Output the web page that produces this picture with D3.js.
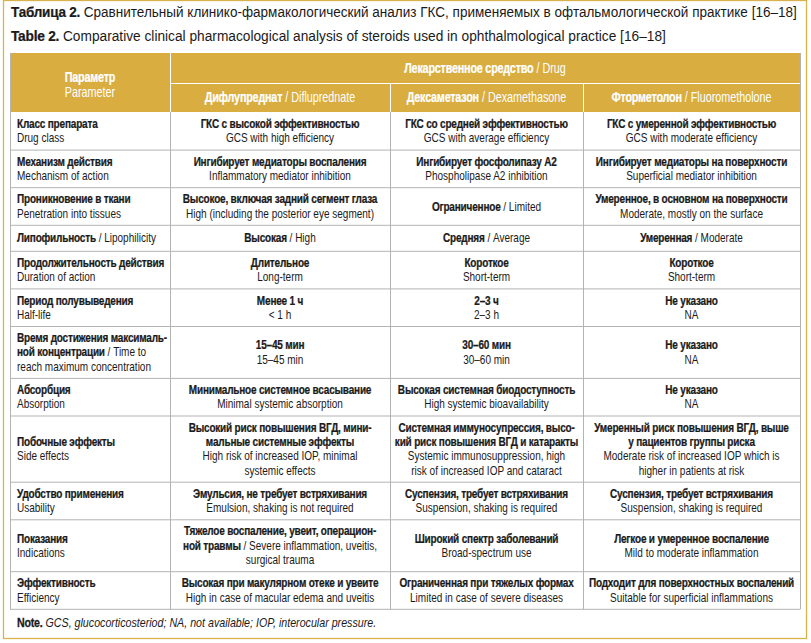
<!DOCTYPE html>
<html>
<head>
<meta charset="utf-8">
<script src="https://cdn.jsdelivr.net/npm/d3@7"></script>
<style>
  body { margin: 0; background: #fff; }
  svg { display: block; }
  text { font-family: "Liberation Sans", Arial, sans-serif; fill: #1a1a1a; }
</style>
</head>
<body>
<svg id="chart" width="811" height="643"></svg>
<script>
// text between *...* is bold
const titleRu = "*Таблица 2.* Сравнительный клинико-фармакологический анализ ГКС, применяемых в офтальмологической практике [16–18]";
const titleEn = "*Table 2.* Comparative clinical pharmacological analysis of steroids used in ophthalmological practice [16–18]";
const headParam = ["*Параметр*", "Parameter"];
const headDrug = "*Лекарственное средство* / Drug";
const drugs = ["*Дифлупреднат* / Difluprednate", "*Дексаметазон* / Dexamethasone", "*Фторметолон* / Fluorometholone"];

const parameters = [
    ["*Класс препарата*", "Drug class"],
    ["*Механизм действия*", "Mechanism of action"],
    ["*Проникновение в ткани*", "Penetration into tissues"],
    ["*Липофильность* / Lipophilicity"],
    ["*Продолжительность действия*", "Duration of action"],
    ["*Период полувыведения*", "Half-life"],
    ["*Время достижения максималь-*", "*ной концентрации* / Time to", "reach maximum concentration"],
    ["*Абсорбция*", "Absorption"],
    ["*Побочные эффекты*", "Side effects"],
    ["*Удобство применения*", "Usability"],
    ["*Показания*", "Indications"],
    ["*Эффективность*", "Efficiency"]
];

const difluprednate = [
    ["*ГКС с высокой эффективностью*", "GCS with high efficiency"],
    ["*Ингибирует медиаторы воспаления*", "Inflammatory mediator inhibition"],
    ["*Высокое, включая задний сегмент глаза*", "High (including the posterior eye segment)"],
    ["*Высокая* / High"],
    ["*Длительное*", "Long-term"],
    ["*Менее 1 ч*", "< 1 h"],
    ["*15–45 мин*", "15–45 min"],
    ["*Минимальное системное всасывание*", "Minimal systemic absorption"],
    ["*Высокий риск повышения ВГД, мини-*", "*мальные системные эффекты*", "High risk of increased IOP, minimal", "systemic effects"],
    ["*Эмульсия, не требует встряхивания*", "Emulsion, shaking is not required"],
    ["*Тяжелое воспаление, увеит, операцион-*", "*ной травмы* / Severe inflammation, uveitis,", "surgical trauma"],
    ["*Высокая при макулярном отеке и увеите*", "High in case of macular edema and uveitis"]
];

const dexamethasone = [
    ["*ГКС со средней эффективностью*", "GCS with average efficiency"],
    ["*Ингибирует фосфолипазу А2*", "Phospholipase A2 inhibition"],
    ["*Ограниченное* / Limited"],
    ["*Средняя* / Average"],
    ["*Короткое*", "Short-term"],
    ["*2–3 ч*", "2–3 h"],
    ["*30–60 мин*", "30–60 min"],
    ["*Высокая системная биодоступность*", "High systemic bioavailability"],
    ["*Системная иммуносупрессия, высо-*", "*кий риск повышения ВГД и катаракты*", "Systemic immunosuppression, high", "risk of increased IOP and cataract"],
    ["*Суспензия, требует встряхивания*", "Suspension, shaking is required"],
    ["*Широкий спектр заболеваний*", "Broad-spectrum use"],
    ["*Ограниченная при тяжелых формах*", "Limited in case of severe diseases"]
];

const fluorometholone = [
    ["*ГКС с умеренной эффективностью*", "GCS with moderate efficiency"],
    ["*Ингибирует медиаторы на поверхности*", "Superficial mediator inhibition"],
    ["*Умеренное, в основном на поверхности*", "Moderate, mostly on the surface"],
    ["*Умеренная* / Moderate"],
    ["*Короткое*", "Short-term"],
    ["*Не указано*", "NA"],
    ["*Не указано*", "NA"],
    ["*Не указано*", "NA"],
    ["*Умеренный риск повышения ВГД, выше*", "*у пациентов группы риска*", "Moderate risk of increased IOP which is", "higher in patients at risk"],
    ["*Суспензия, требует встряхивания*", "Suspension, shaking is required"],
    ["*Легкое и умеренное воспаление*", "Mild to moderate inflammation"],
    ["*Подходит для поверхностных воспалений*", "Suitable for superficial inflammations"]
];

const noteBold = "Note.";
const noteText = " GCS, glucocorticosteriod; NA, not available; IOP, interocular pressure.";

const gold = "#d9ad3f";
const gridColor = "#b3b3b3";
const squeeze = 0.77;   // condensed look: Liberation Sans scaled horizontally

const svg = d3.select("#chart");

// split "*bold* plain" into segments
function segments(str) {
    return str.split("*").map((t, i) => ({ t: t, b: i % 2 === 1 })).filter(s => s.t.length);
}

function addLine(g, str, x, y, anchor, size, color, k) {
    const text = g.append("text")
        .attr("transform", "translate(" + x + "," + y + ") scale(" + (k || squeeze) + ",1)")
        .attr("text-anchor", anchor).style("font-size", size + "px");
    if (color) text.style("fill", color);
    segments(str).forEach(s => {
        const ts = text.append("tspan").text(s.t).style("font-weight", s.b ? "bold" : "normal");
        if (s.b) {
            // heavier bold, a bit narrower like the condensed original
            ts.style("letter-spacing", "-0.25px").style("stroke", color || "#1a1a1a").style("stroke-width", 0.25);
        }
    });
    return text;
}

// outer gold frame
svg.append("rect").attr("x", 3.5).attr("y", 0.5).attr("width", 803).attr("height", 638)
    .attr("fill", "none").attr("stroke", "#d8b24c").attr("stroke-width", 1.3);

// title, fitted to the table width
[titleRu, titleEn].forEach((t, i) => {
    const el = addLine(svg, t, 11, 17 + i * 24, "start", 14.5, null, 1);
    const w = el.node().getComputedTextLength();
    const target = i === 0 ? 786 : 655;
    el.attr("transform", "translate(11," + (17 + i * 24) + ") scale(" + (target / w) + ",1)");
});

// columns
const colEdges = [10, 170, 390, 583, 800];
const x = d3.scaleOrdinal().domain([0, 1, 2, 3]).range(colEdges.slice(0, 4));
const colW = i => colEdges[i + 1] - colEdges[i];

// rows: height from number of lines
const lineH = 14.3;
const columns = [parameters, difluprednate, dexamethasone, fluorometholone];
const nLines = parameters.map((p, r) => d3.max(columns, c => c[r].length));
const rowH = nLines.map(n => Math.max(26, n * lineH + 9));
const headTop = 53, headMid = 83, headBottom = 112;
const rowY = [headBottom];
rowH.forEach((h, i) => rowY.push(rowY[i] + h));
const tableBottom = rowY[rowY.length - 1];

// header
svg.append("rect").attr("x", colEdges[0]).attr("y", headTop)
    .attr("width", colEdges[4] - colEdges[0]).attr("height", headBottom - headTop).attr("fill", gold);
const hd = svg.append("g");
hd.append("line").attr("x1", colEdges[1] + 0.5).attr("x2", colEdges[1] + 0.5).attr("y1", headTop).attr("y2", headBottom)
    .attr("stroke", "#fff").attr("stroke-width", 1);
hd.append("line").attr("x1", colEdges[1]).attr("x2", colEdges[4]).attr("y1", headMid + 0.5).attr("y2", headMid + 0.5)
    .attr("stroke", "#fff").attr("stroke-width", 1);
[2, 3].forEach(i => {
    hd.append("line").attr("x1", colEdges[i] + 0.5).attr("x2", colEdges[i] + 0.5).attr("y1", headMid).attr("y2", headBottom)
        .attr("stroke", "#fff").attr("stroke-width", 1);
});
addLine(hd, headParam[0], x(0) + colW(0) / 2, 82, "middle", 14, "#fff");
addLine(hd, headParam[1], x(0) + colW(0) / 2, 97, "middle", 14, "#fff");
addLine(hd, headDrug, (colEdges[1] + colEdges[4]) / 2, 73, "middle", 14, "#fff");
drugs.forEach((d, i) => {
    addLine(hd, d, x(i + 1) + colW(i + 1) / 2, 102, "middle", 14, "#fff");
});

// body cells
const body = svg.append("g");
parameters.forEach((p, r) => {
    const yc = (rowY[r] + rowY[r + 1]) / 2;
    columns.forEach((col, c) => {
        const lines = col[r];
        const y0 = yc - (lines.length - 1) * lineH / 2 + 4.5;
        lines.forEach((ln, k) => {
            if (c === 0) addLine(body, ln, x(0) + 7, y0 + k * lineH, "start", 13);
            else addLine(body, ln, x(c) + colW(c) / 2, y0 + k * lineH, "middle", 13);
        });
    });
});

// grid
const grid = svg.append("g").attr("stroke", gridColor).attr("stroke-width", 1).attr("fill", "none");
rowY.slice(1).forEach(y => {
    grid.append("line").attr("x1", colEdges[0]).attr("x2", colEdges[4]).attr("y1", y + 0.5).attr("y2", y + 0.5);
});
colEdges.forEach((cx, i) => {
    const top = (i === 0 || i === 4) ? headTop : headBottom;
    grid.append("line").attr("x1", cx + 0.5).attr("x2", cx + 0.5).attr("y1", top).attr("y2", tableBottom + 0.5);
});

// note
const note = addLine(svg, "*" + noteBold + "*", 17, tableBottom + 18, "start", 12, null, 0.89);
note.append("tspan").text(noteText).style("font-style", "italic");
</script>
</body>
</html>
